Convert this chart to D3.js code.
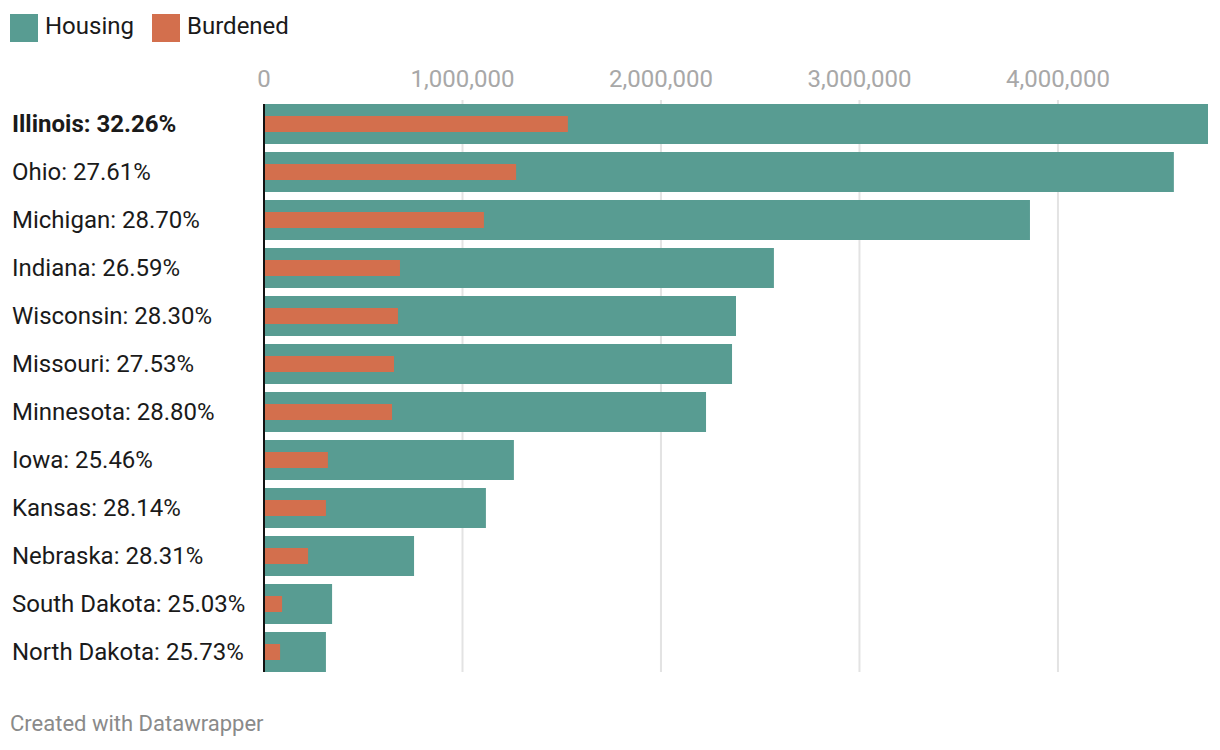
<!DOCTYPE html>
<html><head><meta charset="utf-8">
<script src="https://cdn.jsdelivr.net/npm/d3@7"></script>
<style>
body{margin:0;background:#fff;font-family:Roboto,"Noto Sans",sans-serif;}
</style></head>
<body><svg id="c" width="1220" height="750"></svg>
<script>
const states = ["Illinois","Ohio","Michigan","Indiana","Wisconsin","Missouri","Minnesota","Iowa","Kansas","Nebraska","South Dakota","North Dakota"];
const pctLabels = ["32.26%","27.61%","28.70%","26.59%","28.30%","27.53%","28.80%","25.46%","28.14%","28.31%","25.03%","25.73%"];
const housing = [4756000,4584000,3859000,2569000,2378000,2358000,2227000,1259000,1118000,756000,343000,312000];
const burdened = [1531000,1270000,1108000,685000,675000,655000,645000,322000,312000,222000,91000,81000];
const tickValues = [0,1000000,2000000,3000000,4000000];
const seriesNames = ["Housing","Burdened"];
const colors = ["#589c92","#d36f4d"];

const svg = d3.select("#c");
const x = d3.scaleLinear().domain([0, d3.max(housing)]).range([264, 1208]);
const y = d3.scaleBand().domain(states).range([104, 672]).paddingInner(8/48).paddingOuter(0);

// gridlines
svg.append("g").selectAll("line").data(tickValues.slice(1)).join("line")
  .attr("x1", d=>x(d)).attr("x2", d=>x(d)).attr("y1", 100).attr("y2", 672)
  .attr("stroke", "#e3e3e3").attr("stroke-width", 2);

// tick labels
svg.append("g").selectAll("text").data(tickValues).join("text")
  .attr("x", d=>x(d)).attr("y", 87).attr("text-anchor","middle")
  .attr("font-size", 24).attr("fill","#a8a8a8")
  .text(d=>d3.format(",")(d));

// housing bars
svg.append("g").selectAll("rect").data(states).join("rect")
  .attr("x", x(0)).attr("y", d=>y(d)).attr("height", y.bandwidth())
  .attr("width", (d,i)=>x(housing[i])-x(0)).attr("fill", colors[0]);

// burdened bars
svg.append("g").selectAll("rect").data(states).join("rect")
  .attr("x", x(0)).attr("y", d=>y(d)+y.bandwidth()/2-8).attr("height", 16)
  .attr("width", (d,i)=>x(burdened[i])-x(0)).attr("fill", colors[1]);

// baseline
svg.append("line").attr("x1", x(0)).attr("x2", x(0)).attr("y1", 104).attr("y2", 672)
  .attr("stroke","#111").attr("stroke-width",2);

// row labels
svg.append("g").selectAll("text").data(states).join("text")
  .attr("x", 12).attr("y", d=>y(d)+y.bandwidth()/2+8)
  .attr("font-size", 24).attr("fill","#1a1a1a")
  .attr("font-weight", (d,i)=>i===0?"bold":"normal")
  .text((d,i)=>d+": "+pctLabels[i]);

// legend
const leg = svg.append("g");
const legX = [10,152];
seriesNames.forEach((s,i)=>{
  leg.append("rect").attr("x",legX[i]).attr("y",14).attr("width",28).attr("height",28).attr("fill",colors[i]);
  leg.append("text").attr("x",legX[i]+35).attr("y",34).attr("font-size",24).attr("fill","#1a1a1a").text(s);
});

// footer
svg.append("text").attr("x",10).attr("y",731).attr("font-size",22).attr("fill","#8a8a8a").text("Created with Datawrapper");
</script></body></html>
